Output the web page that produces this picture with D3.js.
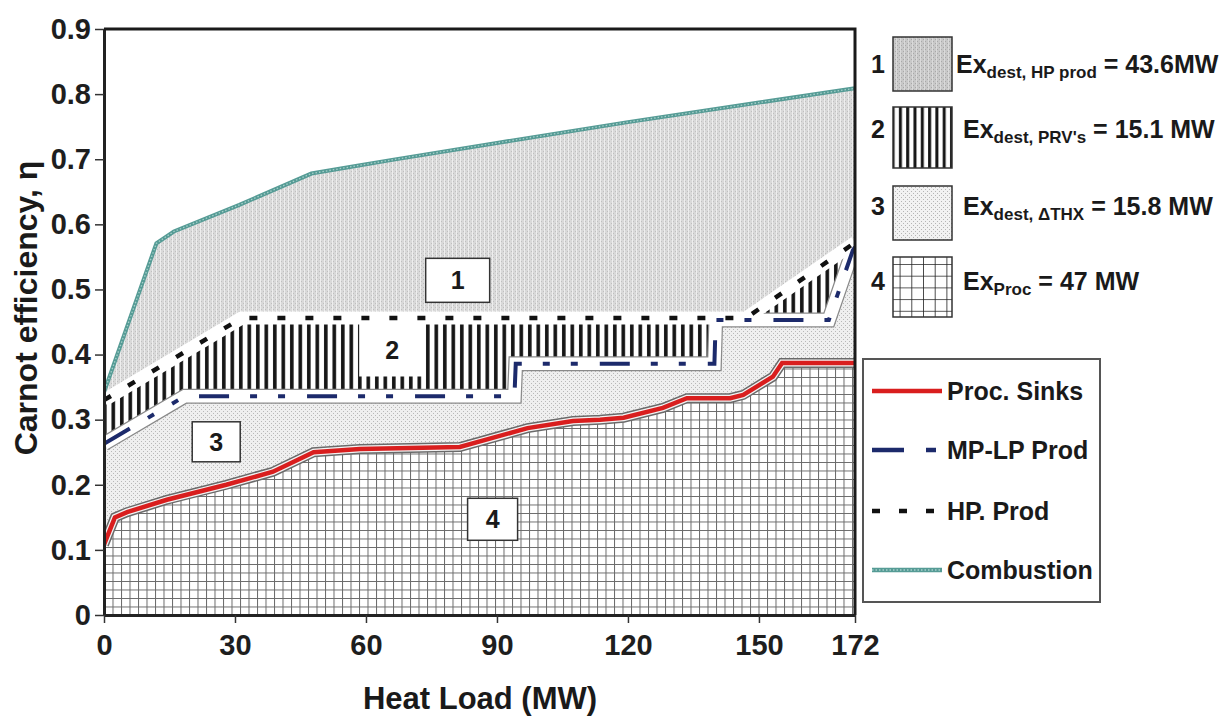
<!DOCTYPE html>
<html>
<head>
<meta charset="utf-8">
<script src="https://cdn.jsdelivr.net/npm/d3@7"></script>
<style>
  body { margin: 0; background: #fff; }
  svg { font-family: "Liberation Sans", Arial, sans-serif; font-weight: bold; }
</style>
</head>
<body>
<div id="viz"></div>
<script>
// curves: [heat load MW, carnot efficiency]
var combustion = [[0, 0.342], [12, 0.571], [16, 0.589], [31, 0.63], [47.5, 0.678], [58, 0.69], [66, 0.699],
  [90, 0.725], [120, 0.757], [150, 0.787], [172, 0.809]];
var hpProd = [[0, 0.33], [31.5, 0.456], [147, 0.456], [172, 0.572]];
var mpLpProd = [[0, 0.263], [18.5, 0.336], [94, 0.336], [94.3, 0.386], [139.8, 0.386], [140.1, 0.453],
  [166, 0.453], [171.5, 0.56], [172, 0.565]];
var procSinks = [[0, 0.108], [2.5, 0.15], [5.3, 0.158], [14.4, 0.177], [28, 0.2], [38.7, 0.22], [48, 0.25],
  [58.6, 0.255], [81.5, 0.258], [97, 0.287], [107.4, 0.298], [113.6, 0.3], [119, 0.303], [128, 0.318],
  [133.5, 0.333], [143.4, 0.333], [146.4, 0.338], [153.2, 0.366], [155.3, 0.387], [172, 0.387]];
var baseLine = [[0, 0], [172, 0]];

var xTicks = [0, 30, 60, 90, 120, 150, 172];
var yTicks = [0, 0.1, 0.2, 0.3, 0.4, 0.5, 0.6, 0.7, 0.8, 0.9];

var regionIds = ["1", "2", "3", "4"];
var regionLabelAt = [[81, 0.514], [66, 0.407], [25.7, 0.266], [89, 0.147]];
var exergyNames = ["dest, HP prod", "dest, PRV's", "dest, \u0394THX", "Proc"];
var exergyValues = [" = 43.6MW", " = 15.1 MW", " = 15.8 MW", " = 47 MW"];
var lineNames = ["Proc. Sinks", "MP-LP Prod", "HP. Prod", "Combustion"];

var width = 1232, height = 716;
var x = d3.scaleLinear().domain([0, 172]).range([104, 855]);
var y = d3.scaleLinear().domain([0, 0.9]).range([615, 29]);

var svg = d3.select("#viz").append("svg")
  .attr("width", width)
  .attr("height", height);

var defs = svg.append("defs");

// textures
function dotPattern(id, bg, dot, stripe) {
  var p = defs.append("pattern").attr("id", id)
    .attr("patternUnits", "userSpaceOnUse").attr("width", 4).attr("height", 4);
  p.append("rect").attr("width", 4).attr("height", 4).attr("fill", bg);
  if (stripe) p.append("rect").attr("x", 0).attr("width", 1).attr("height", 4).attr("fill", stripe);
  p.append("rect").attr("x", 1).attr("y", 1).attr("width", 1).attr("height", 1).attr("fill", dot);
  p.append("rect").attr("x", 3).attr("y", 3).attr("width", 1).attr("height", 1).attr("fill", dot);
}
dotPattern("tex1", "#d9d9d9", "#bfbfbf", "#eeeeee");
dotPattern("tex3", "#efefef", "#b8b8b8", null);
dotPattern("tex1L", "#c8c8c8", "#a8a8a8", "#dadada");
dotPattern("tex3L", "#f2f2f2", "#b5b5b5", null);

function stripePattern(id, w, bar) {
  var p = defs.append("pattern").attr("id", id)
    .attr("patternUnits", "userSpaceOnUse").attr("width", w).attr("height", 10);
  p.append("rect").attr("width", w).attr("height", 10).attr("fill", "#fff");
  p.append("rect").attr("x", 1).attr("width", bar).attr("height", 10).attr("fill", "#151515");
}
stripePattern("tex2", 8.5, 3.6);
stripePattern("tex2L", 7.3, 3);

function gridPattern(id, s, col, lw) {
  var p = defs.append("pattern").attr("id", id)
    .attr("patternUnits", "userSpaceOnUse").attr("width", s).attr("height", s)
    .attr("x", 104).attr("y", 615);
  p.append("rect").attr("width", s).attr("height", s).attr("fill", "#fff");
  p.append("path").attr("d", "M0,0H" + s + "M0,0V" + s)
    .attr("stroke", col).attr("stroke-width", lw).attr("fill", "none");
}
gridPattern("tex4", 8.5, "#6a6a6a", 2);
gridPattern("tex4L", 11.7, "#222", 1.6);

defs.append("clipPath").attr("id", "plotClip")
  .append("rect").attr("x", 104).attr("y", 29).attr("width", 751).attr("height", 586);

var plot = svg.append("g").attr("clip-path", "url(#plotClip)");

// areas between curves
function interp(arr, q) {
  for (var i = 1; i < arr.length; i++) {
    if (q <= arr[i][0]) {
      var a = arr[i - 1], b = arr[i];
      var t = b[0] === a[0] ? 1 : (q - a[0]) / (b[0] - a[0]);
      return a[1] + t * (b[1] - a[1]);
    }
  }
  return arr[arr.length - 1][1];
}
function band(top, bottom) {
  var pts = d3.merge([top, bottom]).map(function(d) { return d[0]; });
  pts = Array.from(new Set(pts)).sort(d3.ascending);
  return pts.map(function(q) { return { q: q, hi: interp(top, q), lo: interp(bottom, q) }; });
}
var area = d3.area()
  .x(function(d) { return x(d.q); })
  .y0(function(d) { return y(d.lo); })
  .y1(function(d) { return y(d.hi); });

plot.append("path").datum(band(combustion, hpProd)).attr("d", area).attr("fill", "url(#tex1)");
plot.append("path").datum(band(hpProd, mpLpProd)).attr("d", area).attr("fill", "url(#tex2)");
plot.append("path").datum(band(mpLpProd, procSinks)).attr("d", area).attr("fill", "url(#tex3)");
plot.append("path").datum(band(procSinks, baseLine)).attr("d", area).attr("fill", "url(#tex4)");

var line = d3.line()
  .x(function(d) { return x(d[0]); })
  .y(function(d) { return y(d[1]); });

// white gaps round the steam lines
plot.append("path").datum(mpLpProd).attr("d", line)
  .attr("fill", "none").attr("stroke", "#8a8a8a").attr("stroke-width", 15);
plot.append("path").datum(mpLpProd).attr("d", line)
  .attr("fill", "none").attr("stroke", "#fff").attr("stroke-width", 12.5);
plot.append("path").datum(hpProd).attr("d", line)
  .attr("fill", "none").attr("stroke", "#fff").attr("stroke-width", 13);

plot.append("path").datum(hpProd).attr("d", line)
  .attr("fill", "none").attr("stroke", "#111").attr("stroke-width", 4.5)
  .attr("stroke-dasharray", "8,20");
plot.append("path").datum(mpLpProd).attr("d", line)
  .attr("fill", "none").attr("stroke", "#1c2a6b").attr("stroke-width", 4)
  .attr("stroke-dasharray", "30,21,7,21,7,22");

// process sinks
plot.append("path").datum(procSinks).attr("d", line)
  .attr("fill", "none").attr("stroke", "#6a6a6a").attr("stroke-width", 10);
plot.append("path").datum(procSinks).attr("d", line)
  .attr("fill", "none").attr("stroke", "#f3f3f3").attr("stroke-width", 7);
plot.append("path").datum(procSinks).attr("d", line)
  .attr("fill", "none").attr("stroke", "#d91e1e").attr("stroke-width", 4.5);

// combustion
plot.append("path").datum(combustion).attr("d", line)
  .attr("fill", "none").attr("stroke", "#559b95").attr("stroke-width", 4);
plot.append("path").datum(combustion).attr("d", line)
  .attr("fill", "none").attr("stroke", "#a7d0cb").attr("stroke-width", 1.3)
  .attr("stroke-dasharray", "1.5,2");

// region labels
var boxW = [64, 66, 48, 50], boxH = [44, 53, 40, 42];
var lab = svg.append("g").selectAll("g")
  .data(regionIds)
  .enter()
  .append("g")
    .attr("transform", function(d, i) {
      return "translate(" + x(regionLabelAt[i][0]) + "," + y(regionLabelAt[i][1]) + ")";
    });
lab.append("rect")
  .attr("x", function(d, i) { return -boxW[i] / 2; })
  .attr("y", function(d, i) { return -boxH[i] / 2; })
  .attr("width", function(d, i) { return boxW[i]; })
  .attr("height", function(d, i) { return boxH[i]; })
  .attr("fill", "#fff")
  .attr("stroke", function(d) { return d === "2" ? "none" : "#333"; })
  .attr("stroke-width", 1.5);
lab.append("text")
  .attr("text-anchor", "middle").attr("dy", "0.36em")
  .attr("font-size", 25).attr("fill", "#1a1a1a")
  .text(function(d) { return d; });

// axes and frame
var yAxis = svg.append("g").attr("transform", "translate(104,0)")
  .call(d3.axisLeft(y).tickValues(yTicks).tickSize(9).tickSizeOuter(0).tickPadding(4)
    .tickFormat(function(d) { return d === 0 ? "0" : d3.format(".1f")(d); }));
var xAxis = svg.append("g").attr("transform", "translate(0,615)")
  .call(d3.axisBottom(x).tickValues(xTicks).tickSize(8).tickSizeOuter(0).tickPadding(11)
    .tickFormat(d3.format("d")));
[yAxis, xAxis].forEach(function(ax) {
  ax.selectAll("text").attr("font-size", 29).attr("fill", "#1e1e1e")
    .attr("font-family", "Liberation Sans, Arial, sans-serif").attr("font-weight", "bold");
  ax.selectAll("line").attr("stroke", "#333").attr("stroke-width", 1.5);
  ax.select(".domain").attr("stroke", "#222").attr("stroke-width", 3);
});
svg.append("path")
  .attr("d", "M" + x(0) + "," + y(0.9) + "H" + x(172) + "V" + y(0))
  .attr("fill", "none").attr("stroke", "#1a1a1a").attr("stroke-width", 3);

svg.append("text")
  .attr("transform", "translate(37,308) rotate(-90)")
  .attr("text-anchor", "middle").attr("font-size", 32).attr("fill", "#1a1a1a")
  .text("Carnot efficiency, \u03b7");
svg.append("text")
  .attr("x", 480).attr("y", 709)
  .attr("text-anchor", "middle").attr("font-size", 31).attr("fill", "#1a1a1a")
  .text("Heat Load (MW)");

// exergy legend
var legFill = ["url(#tex1L)", "url(#tex2L)", "url(#tex3L)", "url(#tex4L)"];
var legTop = [37, 107, 186, 257], legHgt = [54, 61, 54, 60], legBase = [73, 138, 215, 290];
var legTextX = [956, 963, 963, 963];
var ex = svg.append("g").selectAll("g")
  .data(regionIds)
  .enter()
  .append("g");
ex.append("text")
  .attr("x", 878).attr("y", function(d, i) { return legBase[i]; })
  .attr("text-anchor", "middle").attr("font-size", 25).attr("fill", "#1a1a1a")
  .text(function(d) { return d; });
ex.append("rect")
  .attr("x", 893).attr("y", function(d, i) { return legTop[i]; })
  .attr("width", 59).attr("height", function(d, i) { return legHgt[i]; })
  .attr("fill", function(d, i) { return legFill[i]; })
  .attr("stroke", "#333").attr("stroke-width", 1.5);
var exText = ex.append("text")
  .attr("x", function(d, i) { return legTextX[i]; })
  .attr("y", function(d, i) { return legBase[i]; })
  .attr("font-size", 25).attr("fill", "#1a1a1a");
exText.append("tspan").text("Ex");
exText.append("tspan").attr("font-size", 17).attr("dy", 5)
  .text(function(d, i) { return exergyNames[i]; });
exText.append("tspan").attr("dy", -5)
  .text(function(d, i) { return exergyValues[i]; });

// line legend
var lk = svg.append("g");
lk.append("rect").attr("x", 863).attr("y", 359).attr("width", 237).attr("height", 243)
  .attr("fill", "#fff").attr("stroke", "#555").attr("stroke-width", 2);
var keyY = [391, 450, 511, 570];
var keyStroke = ["#d91e1e", "#1c2a6b", "#111", "#559b95"];
var keyDash = [null, "32,22,10,60", "8,19", null];
var keys = lk.selectAll("g.key")
  .data(lineNames)
  .enter()
  .append("g").attr("class", "key");
keys.append("line")
  .attr("x1", 872).attr("x2", 942)
  .attr("y1", function(d, i) { return keyY[i]; })
  .attr("y2", function(d, i) { return keyY[i]; })
  .attr("stroke", function(d, i) { return keyStroke[i]; })
  .attr("stroke-width", 4.5)
  .attr("stroke-dasharray", function(d, i) { return keyDash[i]; });
keys.append("text")
  .attr("x", 947).attr("y", function(d, i) { return keyY[i] + 9; })
  .attr("font-size", 25).attr("fill", "#1a1a1a")
  .text(function(d) { return d; });
lk.append("line").attr("x1", 872).attr("x2", 942).attr("y1", keyY[3]).attr("y2", keyY[3])
  .attr("stroke", "#a7d0cb").attr("stroke-width", 1.3).attr("stroke-dasharray", "1.5,2");
</script>
</body>
</html>
